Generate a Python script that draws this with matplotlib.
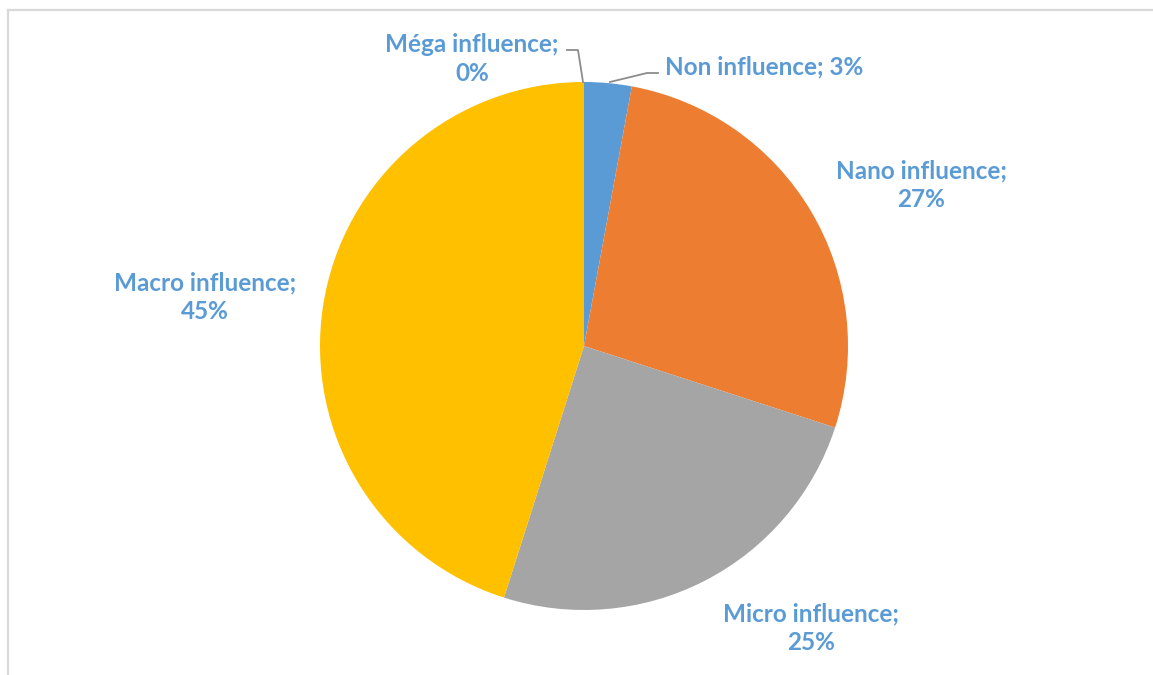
import matplotlib
matplotlib.use("Agg")
import matplotlib.pyplot as plt
from matplotlib.lines import Line2D

categories = ["Non influence", "Nano influence", "Micro influence", "Macro influence", "Méga influence"]
values = [2.9, 27.1, 24.9, 45.1, 0.0]
pct_labels = ["3%", "27%", "25%", "45%", "0%"]
colors = ["#5B9BD5", "#ED7D31", "#A5A5A5", "#FFC000", "#4472C4"]

W, H = 1153, 675
fig = plt.figure(figsize=(W / 100, H / 100), dpi=100)
ax = fig.add_axes([0, 0, 1, 1])

cx, cy, r = 584, H - 346, 264
ax.pie(values, colors=colors, startangle=90, counterclock=False,
       center=(cx, cy), radius=r, frame=True,
       wedgeprops=dict(linewidth=0))
ax.set_xlim(0, W)
ax.set_ylim(0, H)
ax.set_aspect("equal")
ax.axis("off")

# chart border (left and top visible)
fig.add_artist(Line2D([8 / W, 8 / W], [0, 1 - 10 / H], transform=fig.transFigure, color="#D9D9D9", lw=1.6))
fig.add_artist(Line2D([8 / W, 1], [1 - 10 / H, 1 - 10 / H], transform=fig.transFigure, color="#D9D9D9", lw=1.6))

font = dict(family="Lato", weight="bold", color="#5B9BD5", fontsize=17.5)
ls = 1.27

def py(y):
    return H - y

ax.text(665, py(67), f"{categories[0]}; {pct_labels[0]}", ha="left", va="center", **font)
ax.text(921, py(185), f"{categories[1]};\n{pct_labels[1]}", ha="center", va="center", linespacing=ls, **font)
ax.text(811, py(628), f"{categories[2]};\n{pct_labels[2]}", ha="center", va="center", linespacing=ls, **font)
ax.text(205, py(297), f"{categories[3]};\n{pct_labels[3]}", ha="center", va="center", linespacing=ls, **font)
ax.text(472, py(59), f"{categories[4]};\n{pct_labels[4]}", ha="center", va="center", linespacing=ls, **font)

# leader lines
ax.plot([567, 578, 583], [py(50), py(50), py(82)], color="#8C8C8C", lw=1.3)
ax.plot([610, 647, 658], [py(82), py(73), py(73)], color="#8C8C8C", lw=1.3)

fig.savefig("out.png", dpi=100)
